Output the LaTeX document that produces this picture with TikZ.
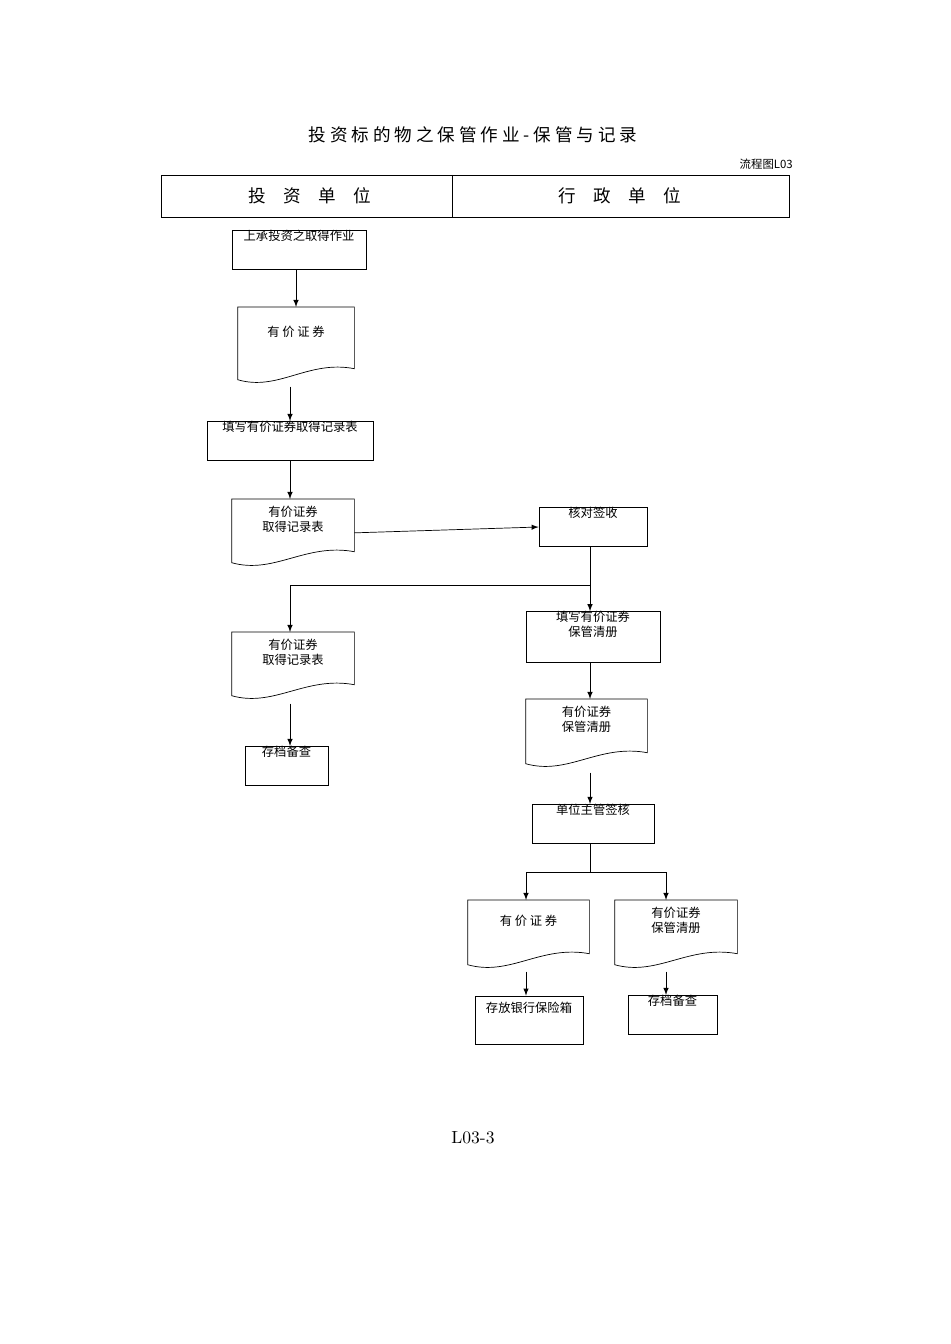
\documentclass[tikz,border=0pt]{standalone}
\usepackage{fontspec}
\newfontfamily\cjk{Noto Sans CJK SC}
\usetikzlibrary{positioning}
\tikzset{
  box/.style = {draw, rectangle, inner sep=0pt, align=center, font=\cjk\fontsize{7}{8.5}\selectfont},
  paper/.style = {rectangle, inner sep=0pt, align=center, font=\cjk\fontsize{7}{8.5}\selectfont},
  flow/.style = {-latex, thin}
}
% document shape: name, centre x, top y, width, height, text
\newcommand{\paperdoc}[6]{%
  \node [paper, minimum width=#4*0.02cm, minimum height=#5*0.02cm, anchor=north] (#1) at (#2,#3) {#6\\[8pt]};
  \draw (#1.north west) -- (#1.north east) -- ([yshift=15*0.02cm]#1.south east)
    .. controls ([xshift=-0.4*#4*0.02cm, yshift=24*0.02cm]#1.south east)
    and ([xshift=0.35*#4*0.02cm, yshift=-8*0.02cm]#1.south west)
    .. ([yshift=4*0.02cm]#1.south west) -- cycle;
}
\begin{document}
\begin{tikzpicture}[x=0.02cm, y=-0.02cm]
  \useasboundingbox (0,0) rectangle (950,1344);
  % title and header
  \node [font=\cjk\fontsize{10}{12}\selectfont] (title) at (473,135) {投\ 资\ 标\ 的\ 物\ 之\ 保\ 管\ 作\ 业\ -\ 保\ 管\ 与\ 记\ 录};
  \node [font=\cjk\fontsize{6.5}{8}\selectfont, anchor=east] (code) at (799,164) {流程图L03};
  \draw (161,175) rectangle (789,217);
  \draw (452,175) -- (452,217);
  \node [font=\cjk\fontsize{10}{12}\selectfont] (invest) at (310,196) {投\quad 资\quad 单\quad 位};
  \node [font=\cjk\fontsize{10}{12}\selectfont] (admin) at (620,196) {行\quad 政\quad 单\quad 位};
  % place nodes
  \node [box, minimum width=134*0.02cm, minimum height=38*0.02cm] (start) at (299,250) {上承投资之取得作业\\[8pt]};
  \paperdoc{sec}{296}{307}{116}{76}{有\ 价\ 证\ 券}
  \node [box, minimum width=166*0.02cm, minimum height=38*0.02cm] (fill) at (290,441) {填写有价证券取得记录表\\[8pt]};
  \paperdoc{rec}{293}{499}{122}{67}{有价证券\\取得记录表}
  \node [box, minimum width=108*0.02cm, minimum height=38*0.02cm] (check) at (593,527) {核对签收\\[8pt]};
  \paperdoc{reccopy}{293}{632}{122}{67}{有价证券\\取得记录表}
  \node [box, minimum width=83*0.02cm, minimum height=38*0.02cm] (file1) at (286.5,766) {存档备查\\[8pt]};
  \node [box, minimum width=134*0.02cm, minimum height=48*0.02cm] (ledger) at (593,637) {填写有价证券\\保管清册\\[6pt]};
  \paperdoc{book}{586.5}{699}{121}{68}{有价证券\\保管清册}
  \node [box, minimum width=122*0.02cm, minimum height=38*0.02cm] (approve) at (593,824) {单位主管签核\\[8pt]};
  \paperdoc{secb}{528.5}{900}{121}{68}{有\ 价\ 证\ 券}
  \paperdoc{bookb}{676}{900}{122}{68}{有价证券\\保管清册}
  \node [box, minimum width=108*0.02cm, minimum height=48*0.02cm] (safe) at (529,1020) {存放银行保险箱\\[6pt]};
  \node [box, minimum width=89*0.02cm, minimum height=38*0.02cm] (file2) at (672.5,1015) {存档备查\\[8pt]};
  \node [font=\fontsize{10}{12}\selectfont] (page) at (473,1138) {L03-3};
  % draw edges
  \draw [flow] (start.south -| 296,0) -- (sec.north -| 296,0);
  \draw [flow] ([yshift=-3*0.02cm]sec.south -| 290,0) -- (fill.north -| 290,0);
  \draw [flow] (fill.south -| 290,0) -- (rec.north -| 290,0);
  \draw [flow] (rec.east) -- (check.west);
  \coordinate (split) at (590,585);
  \draw (check.south -| 590,0) -- (split);
  \draw [flow] (split) -| (reccopy.north -| 290,0);
  \draw [flow] (split) -- (ledger.north -| 590,0);
  \draw [flow] ([yshift=-4*0.02cm]reccopy.south -| 290,0) -- (file1.north -| 290,0);
  \draw [flow] (ledger.south -| 590,0) -- (book.north -| 590,0);
  \draw [flow] ([yshift=-5*0.02cm]book.south -| 590,0) -- (approve.north -| 590,0);
  \coordinate (fork) at (590,872);
  \draw (approve.south -| 590,0) -- (fork);
  \draw [flow] (fork) -| (secb.north -| 526,0);
  \draw [flow] (fork) -| (bookb.north -| 666,0);
  \draw [flow] ([yshift=-3*0.02cm]secb.south -| 526,0) -- (safe.north -| 526,0);
  \draw [flow] ([yshift=-3*0.02cm]bookb.south -| 666,0) -- (file2.north -| 666,0);
\end{tikzpicture}
\end{document}
